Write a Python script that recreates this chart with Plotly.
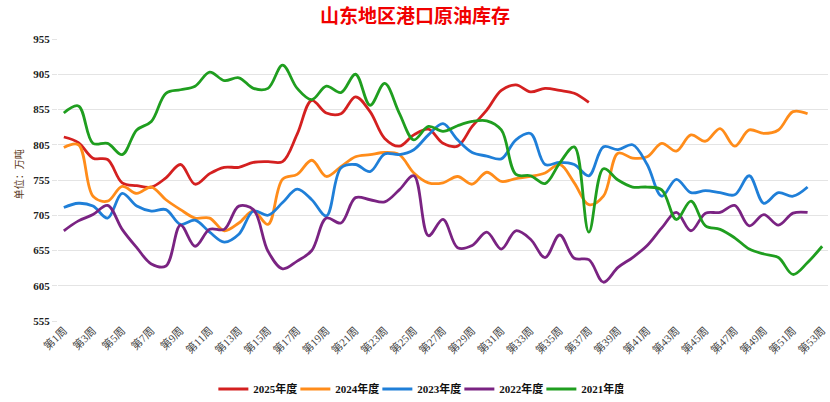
import plotly.graph_objects as go

weeks = [f"第{i}周" for i in range(1, 54)]
tick_weeks = [f"第{i}周" for i in range(1, 54, 2)]

y2025 = [816, 808, 786, 784, 751, 747, 745, 758, 777, 749,
         764, 773, 773, 780, 781, 781, 820, 868, 850, 849,
         873, 852, 814, 803, 819, 827, 807, 803, 831, 854,
         882, 890, 880, 885, 882, 878, 865]
y2024 = [801, 805, 732, 725, 746, 736, 745, 727, 713, 701,
         701, 683, 694, 711, 692, 756, 763, 783, 760, 774,
         788, 791, 794, 791, 765, 751, 751, 760, 749, 766,
         753, 757, 760, 765, 777, 751, 720, 732, 793, 786,
         788, 807, 796, 819, 810, 828, 803, 826, 821, 826,
         852, 849]
y2023 = [716, 722, 718, 701, 736, 718, 711, 713, 692, 698,
         681, 667, 678, 711, 705, 723, 742, 727, 704, 772,
         777, 767, 792, 791, 798, 819, 835, 812, 794, 789,
         785, 812, 821, 777, 780, 777, 761, 802, 798, 805,
         777, 732, 756, 737, 740, 737, 734, 761, 722, 737,
         732, 745]
y2022 = [683, 697, 706, 719, 685, 659, 636, 633, 691, 661,
         685, 685, 718, 713, 654, 629, 640, 655, 701, 694,
         730, 727, 724, 741, 761, 676, 699, 659, 662, 681,
         657, 683, 671, 645, 677, 644, 642, 610, 631, 645,
         662, 687, 709, 683, 708, 709, 719, 690, 706, 691,
         708, 709]
y2021 = [850, 860, 807, 807, 791, 826, 838, 878, 883, 888,
         908, 896, 900, 885, 885, 918, 885, 869, 888, 879,
         905, 861, 892, 850, 812, 831, 824, 832, 838, 839,
         826, 763, 761, 750, 779, 802, 681, 771, 755, 745,
         745, 741, 699, 725, 690, 685, 673, 657, 650, 645,
         621, 638, 661]

series = [
    ("2025年度", y2025, "#d42020"),
    ("2024年度", y2024, "#ff8c1a"),
    ("2023年度", y2023, "#1f7fd8"),
    ("2022年度", y2022, "#7a2382"),
    ("2021年度", y2021, "#1f9e1f"),
]

y_ticks = [555, 605, 655, 705, 755, 805, 855, 905, 955]

fig = go.Figure()
for name, vals, color in series:
    fig.add_trace(go.Scatter(
        x=weeks[:len(vals)], y=vals, name=name, mode="lines",
        line=dict(color=color, width=2.8, shape="spline", smoothing=1),
    ))

serif = "Liberation Serif, Noto Sans CJK SC, serif"

fig.update_layout(
    width=830, height=402,
    margin=dict(l=58, r=2, t=39, b=81),
    paper_bgcolor="white", plot_bgcolor="white",
    title=dict(text="<b>山东地区港口原油库存</b>", x=0.5, xanchor="center",
               y=1 - 16 / 402, yanchor="middle",
               font=dict(family="Noto Sans CJK SC", size=19, color="#f00000")),
    showlegend=True,
    legend=dict(orientation="h", x=0.468, xanchor="center", yref="container",
                y=13 / 402, yanchor="middle",
                font=dict(family=serif, size=11, color="#111", weight="bold"),
                itemwidth=30, entrywidth=37, entrywidthmode="pixels"),
    xaxis=dict(type="category", categoryorder="array", categoryarray=weeks,
               range=[-0.4, 52.4], tickmode="array", tickvals=tick_weeks,
               ticktext=tick_weeks, tickangle=-45, showgrid=False,
               showline=False, zeroline=False, ticks="", automargin=False,
               tickfont=dict(family=serif, size=11, color="#444")),
    yaxis=dict(range=[555, 955], tickvals=y_ticks, showgrid=True,
               gridcolor="#e4e4e4", gridwidth=1, zeroline=False, showline=False,
               ticks="outside", ticklen=5, tickcolor="#e4e4e4", automargin=False,
               tickfont=dict(family=serif, size=11, color="#222", weight="bold")),
    annotations=[dict(text="单位：万吨", xref="paper", yref="paper",
                      x=(18 - 58) / 770, y=0.52, textangle=-90,
                      showarrow=False, xanchor="center", yanchor="middle",
                      font=dict(family="Noto Sans CJK SC", size=10, color="#5a3a1a"))],
)

fig.write_html("out.html", config={"displayModeBar": False},
               post_script="document.body.style.margin='0';document.body.style.overflow='hidden';")
